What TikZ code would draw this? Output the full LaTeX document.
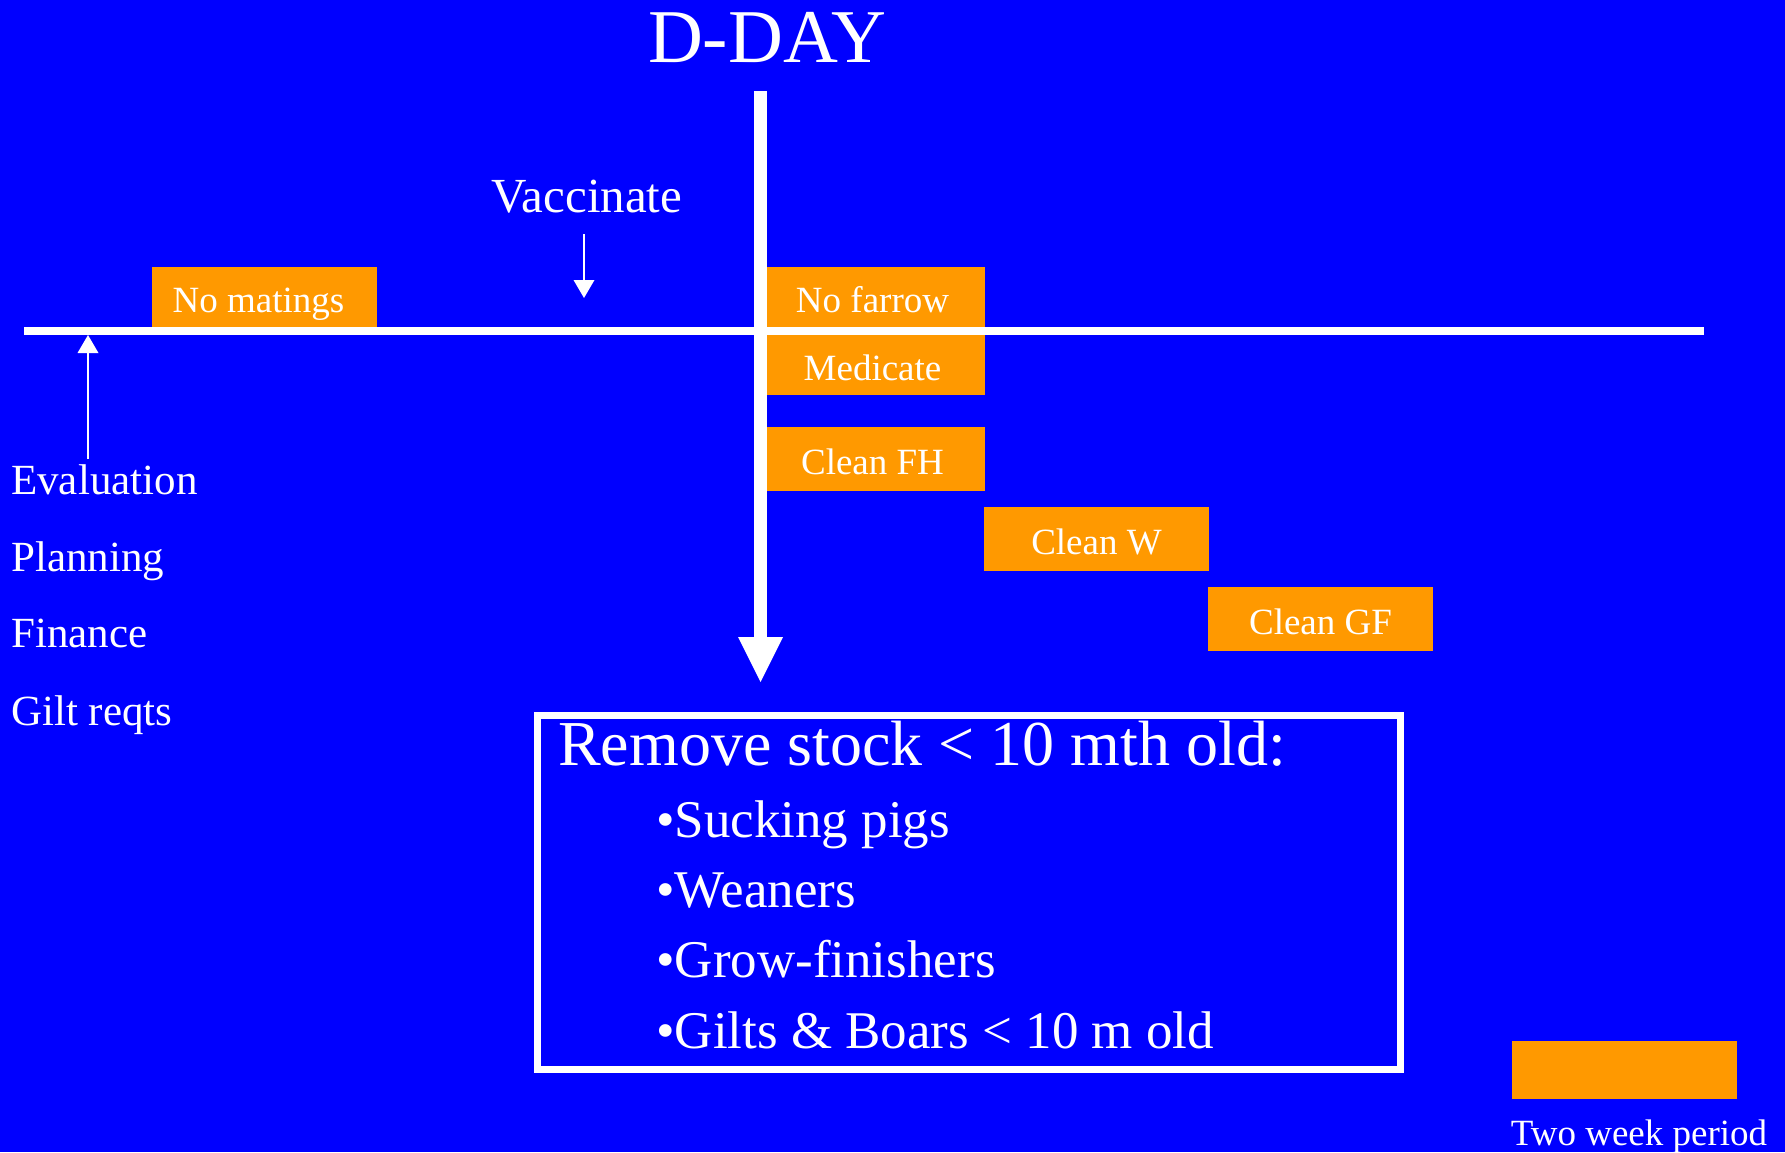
\documentclass[tikz,border=0pt]{standalone}
\usepackage{fontspec}
\setmainfont{Liberation Serif}
\usetikzlibrary{arrows.meta}
\newlength{\du}
\setlength{\du}{1pt}
\definecolor{slideblue}{rgb}{0.000000, 0.000000, 1.000000}
\definecolor{periodorange}{rgb}{1.000000, 0.600000, 0.000000}
\tikzset{
  period/.style={fill=periodorange, text=white, inner sep=0pt, minimum width=225\du,
    minimum height=64\du, text height=30\du, text depth=0pt, font=\fontsize{37}{40}\selectfont},
  plain/.style={text=white, inner sep=0pt},
  thinarrow/.style={draw=white, line width=2\du, -{Triangle[length=18pt,width=21pt,line width=0pt]}},
}

\begin{document}
\begin{tikzpicture}
\pgftransformxscale{1.000000}
\pgftransformyscale{-1.000000}
\fill[slideblue] (0\du,0\du) rectangle (1785\du,1152\du);
\useasboundingbox (0\du,0\du) rectangle (1785\du,1152\du);
% two week periods
\node[period, minimum height=60\du] (nomatings) at (264.5\du,297\du) {No matings\hspace*{12\du}};
\node[period, minimum height=60\du] (nofarrow) at (872.5\du,297\du) {No farrow};
\node[period, minimum height=60\du] (medicate) at (872.5\du,365\du) {Medicate};
\node[period] (cleanfh) at (872.5\du,459\du) {Clean FH};
\node[period] (cleanw) at (1096.5\du,539\du) {Clean W};
\node[period] (cleangf) at (1320.5\du,619\du) {Clean GF};
\node[period, minimum height=58\du] (legend) at (1624.5\du,1070\du) {};
\node[plain, anchor=base, font=\fontsize{37}{40}\selectfont] (legendtext) at (1639\du,1145\du) {Two week period};
% time line
\coordinate (tlstart) at (24\du,331\du);
\coordinate (tlend) at (1704\du,331\du);
\draw[white, line width=8\du] (tlstart) -- (tlend);
% d-day
\node[plain, anchor=base, font=\fontsize{76}{80}\selectfont] (dday) at (767\du,62\du) {D-DAY};
\coordinate (ddaytop) at (760.5\du,91\du);
\coordinate (ddaytip) at (760.5\du,682\du);
\draw[white, line width=13\du, -{Triangle[length=45pt,width=45pt,line width=0pt]}] (ddaytop) -- (ddaytip);
% vaccinate
\node[plain, anchor=base, font=\fontsize{49}{52}\selectfont] (vaccinate) at (587\du,212\du) {Vaccinate};
\coordinate (vaccfoot) at (584\du,234\du);
\coordinate (vacctip) at (584\du,298\du);
\draw[thinarrow] (vaccfoot) -- (vacctip);
% left list
\node[plain, anchor=base west, font=\fontsize{43}{46}\selectfont] (evaluation) at (11\du,494\du) {Evaluation};
\node[plain, anchor=base west, font=\fontsize{43}{46}\selectfont] (planning) at (11\du,571\du) {Planning};
\node[plain, anchor=base west, font=\fontsize{43}{46}\selectfont] (finance) at (11\du,647\du) {Finance};
\node[plain, anchor=base west, font=\fontsize{43}{46}\selectfont] (giltreqts) at (11\du,725\du) {Gilt reqts};
\coordinate (evalfoot) at (88\du,459\du);
\coordinate (evaltip) at (88\du,335\du);
\draw[thinarrow] (evalfoot) -- (evaltip);
% stock box
\node[draw=white, line width=7\du, inner sep=0pt, minimum width=863\du, minimum height=354.5\du] (stockbox) at (968.5\du,892.25\du) {};
\node[plain, anchor=base west, font=\fontsize{64}{66}\selectfont] (stocktitle) at (558\du,765\du) {Remove stock < 10 mth old:};
\node[plain, anchor=base west, font=\fontsize{53}{56}\selectfont] (sucking) at (656\du,837\du) {•Sucking pigs};
\node[plain, anchor=base west, font=\fontsize{53}{56}\selectfont] (weaners) at (656\du,907\du) {•Weaners};
\node[plain, anchor=base west, font=\fontsize{53}{56}\selectfont] (growfin) at (656\du,977\du) {•Grow-finishers};
\node[plain, anchor=base west, font=\fontsize{53}{56}\selectfont] (giltsboars) at (656\du,1048\du) {•Gilts \& Boars < 10 m old};
\end{tikzpicture}
\end{document}
